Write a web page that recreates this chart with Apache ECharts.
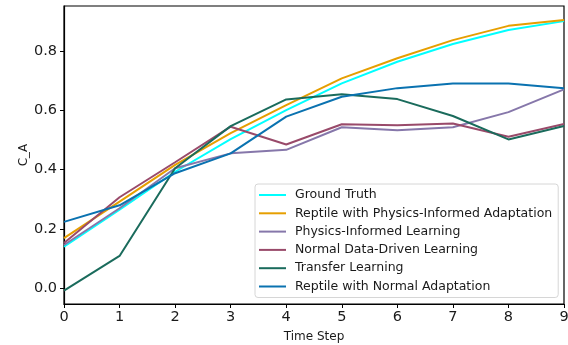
<!DOCTYPE html>
<html>
<head>
<meta charset="utf-8">
<script src="https://cdn.jsdelivr.net/npm/echarts@6/dist/echarts.min.js"></script>
<style>
  html, body { margin: 0; padding: 0; background: #fff; }
  #chart { width: 568px; height: 345px; }
</style>
</head>
<body>
<div id="chart"></div>
<script>
// Concentration C_A over time steps for each method
const timeSteps = [0, 1, 2, 3, 4, 5, 6, 7, 8, 9];
const yTicks = [0.0, 0.2, 0.4, 0.6, 0.8];

const groundTruth      = [0.140, 0.265, 0.393, 0.503, 0.601, 0.691, 0.764, 0.824, 0.871, 0.901];
const reptilePhysics   = [0.169, 0.292, 0.416, 0.523, 0.618, 0.708, 0.776, 0.837, 0.885, 0.905];
const physicsInformed  = [0.146, 0.270, 0.405, 0.455, 0.467, 0.543, 0.533, 0.543, 0.594, 0.671];
const normalDataDriven = [0.153, 0.307, 0.425, 0.545, 0.485, 0.553, 0.550, 0.556, 0.511, 0.554];
const transferLearning = [-0.008, 0.109, 0.405, 0.547, 0.637, 0.654, 0.638, 0.581, 0.502, 0.547];
const reptileNormal    = [0.224, 0.280, 0.388, 0.455, 0.579, 0.646, 0.675, 0.691, 0.691, 0.675];

const seriesDefs = [
  { name: 'Ground Truth', values: groundTruth, color: '#00FFFF' },
  { name: 'Reptile with Physics-Informed Adaptation', values: reptilePhysics, color: '#E69F00' },
  { name: 'Physics-Informed Learning', values: physicsInformed, color: '#8677AA' },
  { name: 'Normal Data-Driven Learning', values: normalDataDriven, color: '#994A6A' },
  { name: 'Transfer Learning', values: transferLearning, color: '#1A6B5C' },
  { name: 'Reptile with Normal Adaptation', values: reptileNormal, color: '#0A72B0' }
];

const font = 'DejaVu Sans';

const chart = echarts.init(document.getElementById('chart'), null, { renderer: 'canvas' });
chart.setOption({
  animation: false,
  backgroundColor: '#fff',
  textStyle: { fontFamily: font },
  grid: {
    left: 64, right: 4, top: 6, bottom: 41,
    outerBoundsMode: 'none',
    containLabel: false,
    show: true, borderColor: '#000', borderWidth: 1.2, backgroundColor: 'transparent'
  },
  legend: {
    orient: 'vertical',
    left: 255, top: 184,
    padding: [4, 6, 4, 4],
    itemGap: 4.3,
    itemWidth: 27,
    itemHeight: 2,
    icon: 'rect',
    backgroundColor: 'rgba(255,255,255,0.8)',
    borderColor: '#d6d6d6',
    borderWidth: 1,
    borderRadius: 3,
    textStyle: { fontFamily: font, fontSize: 12.5, color: '#1a1a1a', lineHeight: 14, padding: [0, 0, 0, 4] },
    data: seriesDefs.map(d => d.name)
  },
  xAxis: {
    type: 'value',
    min: 0, max: 9, interval: 1,
    name: 'Time Step',
    nameLocation: 'middle',
    nameGap: 27,
    nameMoveOverlap: false,
    nameTextStyle: { fontFamily: font, fontSize: 12, color: '#1a1a1a' },
    axisLine: { show: true, onZero: false, lineStyle: { color: '#000', width: 1.2 } },
    axisTick: { show: true, inside: false, length: 4, lineStyle: { color: '#000', width: 1 } },
    axisLabel: { fontFamily: font, fontSize: 14.5, color: '#1a1a1a', margin: 6 },
    splitLine: { show: false }
  },
  yAxis: {
    type: 'value',
    min: -0.053, max: 0.952,
    name: 'C_A',
    nameLocation: 'middle',
    nameGap: 34,
    nameMoveOverlap: false,
    nameTextStyle: { fontFamily: font, fontSize: 12, color: '#1a1a1a' },
    axisLine: { show: true, onZero: false, lineStyle: { color: '#000', width: 1.2 } },
    axisTick: { show: true, inside: false, length: 4, customValues: yTicks, lineStyle: { color: '#000', width: 1 } },
    axisLabel: {
      fontFamily: font, fontSize: 14.5, color: '#1a1a1a', margin: 7,
      customValues: yTicks,
      formatter: v => v.toFixed(1)
    },
    splitLine: { show: false }
  },
  series: seriesDefs.map(d => ({
    name: d.name,
    type: 'line',
    data: timeSteps.map((t, i) => [t, d.values[i]]),
    symbol: 'none',
    color: d.color,
    lineStyle: { color: d.color, width: 2 },
    emphasis: { disabled: true }
  }))
});
</script>
</body>
</html>
